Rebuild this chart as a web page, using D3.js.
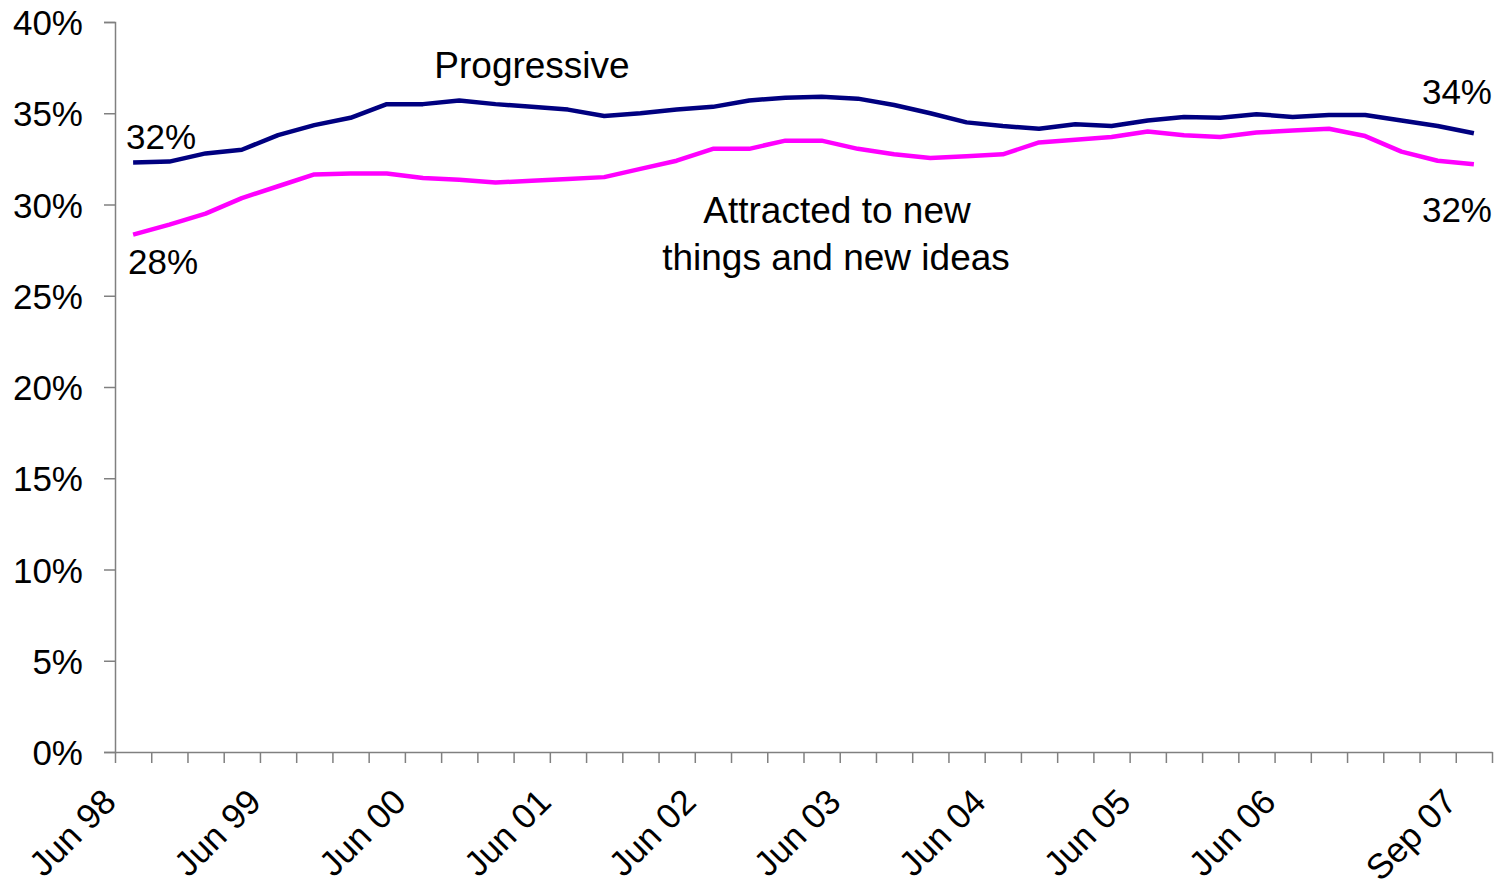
<!DOCTYPE html>
<html>
<head>
<meta charset="utf-8">
<script src="https://cdn.jsdelivr.net/npm/d3@7/dist/d3.min.js"></script>
<style>
  html, body { margin: 0; padding: 0; background: #fff; }
  svg { display: block; }
  text { font-family: "Liberation Sans", Arial, sans-serif; fill: #000; }
</style>
</head>
<body>
<svg id="chart" width="1508" height="885"></svg>
<script>
// Quarterly categories, Jun 98 .. Sep 07
const categories = [
  "Jun 98","Sep 98","Dec 98","Mar 99","Jun 99","Sep 99","Dec 99","Mar 00",
  "Jun 00","Sep 00","Dec 00","Mar 01","Jun 01","Sep 01","Dec 01","Mar 02",
  "Jun 02","Sep 02","Dec 02","Mar 03","Jun 03","Sep 03","Dec 03","Mar 04",
  "Jun 04","Sep 04","Dec 04","Mar 05","Jun 05","Sep 05","Dec 05","Mar 06",
  "Jun 06","Sep 06","Dec 06","Mar 07","Jun 07","Sep 07"
];
const progressive = [
  32.3, 32.35, 32.8, 33.0, 33.8, 34.35, 34.75, 35.5,
  35.5, 35.7, 35.5, 35.35, 35.2, 34.85, 35.0, 35.2,
  35.35, 35.7, 35.85, 35.9, 35.8, 35.45, 35.0, 34.5,
  34.3, 34.15, 34.4, 34.3, 34.6, 34.8, 34.75, 34.95,
  34.8, 34.9, 34.9, 34.6, 34.3, 33.9
];
const attracted = [
  28.35, 28.9, 29.5, 30.35, 31.0, 31.65, 31.7, 31.7,
  31.45, 31.35, 31.2, 31.3, 31.4, 31.5, 31.95, 32.4,
  33.05, 33.05, 33.5, 33.5, 33.05, 32.75, 32.55, 32.65,
  32.75, 33.4, 33.55, 33.7, 34.0, 33.8, 33.7, 33.95,
  34.05, 34.15, 33.75, 32.9, 32.4, 32.2
];
const xTickLabels = ["Jun 98","Jun 99","Jun 00","Jun 01","Jun 02","Jun 03","Jun 04","Jun 05","Jun 06","Sep 07"];
const yTicks = [0, 5, 10, 15, 20, 25, 30, 35, 40];
const seriesNames = ["Progressive", ["Attracted to new", "things and new ideas"]];
const endLabels = { progressive: ["32%", "34%"], attracted: ["28%", "32%"] };

const svg = d3.select("#chart");
const mLeft = 115, mRight = 1492, mTop = 22, mBottom = 752;
const axisColor = "#808080";

const x = d3.scaleBand().domain(categories).range([mLeft, mRight]).padding(0);
const xb = d3.scaleLinear().domain([0, categories.length]).range([mLeft, mRight]);
const y = d3.scaleLinear().domain([0, 40]).range([mBottom, mTop]);

// Y axis
const yAxis = svg.append("g").attr("transform", `translate(${mLeft},0)`)
  .call(d3.axisLeft(y).tickValues(yTicks).tickFormat(d => d + "%").tickSize(11).tickPadding(21));
yAxis.select(".domain").attr("stroke", axisColor).attr("stroke-width", 1.5);
yAxis.selectAll(".tick line").attr("stroke", axisColor).attr("stroke-width", 1.5);
yAxis.selectAll(".tick text").style("font-size", "35px").attr("fill", "#000").attr("dy", "0.36em");

// X axis ticks at category boundaries
const xAxis = svg.append("g").attr("transform", `translate(0,${mBottom})`)
  .call(d3.axisBottom(xb).tickValues(d3.range(categories.length + 1)).tickFormat("").tickSizeInner(11).tickSizeOuter(0));
xAxis.select(".domain").attr("stroke", axisColor).attr("stroke-width", 1.5);
xAxis.selectAll(".tick line").attr("stroke", axisColor).attr("stroke-width", 1.5);

// X labels rotated
svg.append("g").selectAll("text").data(xTickLabels).join("text")
  .attr("transform", d => `translate(${x(d) + x.bandwidth() / 2 - 15},804) rotate(-45)`)
  .attr("text-anchor", "end")
  .style("font-size", "35px")
  .text(d => d);

// Lines
const line = d3.line().x((d, i) => x(categories[i]) + x.bandwidth() / 2).y(d => y(d));
svg.append("path").datum(progressive).attr("d", line)
  .attr("fill", "none").attr("stroke", "#000080").attr("stroke-width", 4.5).attr("stroke-linejoin", "round");
svg.append("path").datum(attracted).attr("d", line)
  .attr("fill", "none").attr("stroke", "#FF00FF").attr("stroke-width", 4.5).attr("stroke-linejoin", "round");

// Annotations
const ann = svg.append("g").style("font-size", "37px");
ann.append("text").attr("x", 532).attr("y", 78).attr("text-anchor", "middle").text(seriesNames[0]);
ann.append("text").attr("x", 837).attr("y", 223).attr("text-anchor", "middle").text(seriesNames[1][0]);
ann.append("text").attr("x", 836).attr("y", 270).attr("text-anchor", "middle").text(seriesNames[1][1]);
const lab = svg.append("g").style("font-size", "35px");
lab.append("text").attr("x", 126).attr("y", 149).text(endLabels.progressive[0]);
lab.append("text").attr("x", 128).attr("y", 274).text(endLabels.attracted[0]);
lab.append("text").attr("x", 1492).attr("y", 104).attr("text-anchor", "end").text(endLabels.progressive[1]);
lab.append("text").attr("x", 1492).attr("y", 222).attr("text-anchor", "end").text(endLabels.attracted[1]);
</script>
</body>
</html>
